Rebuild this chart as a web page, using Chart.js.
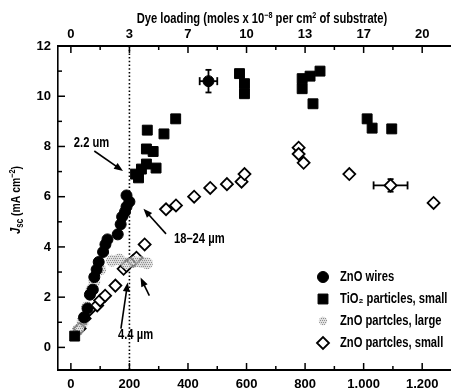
<!DOCTYPE html>
<html>
<head>
<meta charset="utf-8">
<script src="https://cdn.jsdelivr.net/npm/chart.js@4.4.0/dist/chart.umd.min.js"></script>
<style>
  html, body { margin: 0; padding: 0; background: #fff; }
  #wrap { position: relative; width: 458px; height: 388px; }
</style>
</head>
<body>
<div id="wrap"><canvas id="jscChart"></canvas></div>
<script>
'use strict';

// ---- Data ----
const wiresX = [45, 57, 65, 75, 80, 88, 95, 110, 118, 125, 160, 170, 175, 185, 190, 200, 190, 470];
const wiresY = [1.2, 1.55, 2.1, 2.3, 2.8, 3.1, 3.4, 3.8, 4.1, 4.3, 4.5, 4.9, 5.2, 5.4, 5.6, 5.8, 6.05, 10.6];

const tio2X = [13, 221, 231, 241, 258, 291, 258, 281, 261, 318, 358, 576, 593, 593, 790, 790, 817, 851, 827, 1012, 1029, 1096];
const tio2Y = [0.45, 6.9, 6.75, 7.1, 7.3, 7.14, 7.9, 7.8, 8.65, 8.5, 9.1, 10.9, 10.5, 10.1, 10.7, 10.3, 10.8, 11.0, 9.7, 9.1, 8.73, 8.7];

const largeX = [25, 40, 55, 70, 80, 100, 140, 165, 190, 215, 240, 260];
const largeY = [0.7, 1.0, 1.6, 2.3, 2.6, 3.1, 3.45, 3.5, 3.35, 3.4, 3.4, 3.35];

const smallX = [30, 47, 64, 90, 100, 117, 152, 180, 190, 213, 224, 252, 325, 359, 421, 476, 533, 583, 593, 778, 778, 795, 951, 1092, 1239];
const smallY = [0.75, 1.15, 1.5, 1.67, 1.87, 2.06, 2.46, 3.13, 3.25, 3.45, 3.57, 4.1, 5.5, 5.65, 6.0, 6.35, 6.5, 6.6, 6.9, 7.95, 7.7, 7.35, 6.9, 6.45, 5.75];

// error bars: wires point and ZnO small point
const errX = [470, 1092];
const errY = [10.6, 6.45];
const errDx = [30, 58];
const errDy = [0.45, 0.25];

// axis ticks
const xTicks = [0, 100, 200, 300, 400, 500, 600, 700, 800, 900, 1000, 1100, 1200];
const dyeLabels = ['0', '3', '7', '10', '13', '17', '20'];
const yTicks = [0, 1, 2, 3, 4, 5, 6, 7, 8, 9, 10, 11, 12];
const markerLine = 200;

// annotations (data units)
const noteText = ['2.2 um', '18\u201324 \u00b5m', '4.4 \u00b5m'];
const noteX = [10, 352, 161];
const noteY = [8.13, 4.33, 0.48];
const arrowFrom = [[80, 7.82], [325, 4.52], [171, 0.75], [268, 2.06]];
const arrowTo = [[178, 7.02], [248, 5.52], [194, 2.58], [238, 2.78]];

const seriesNames = ['ZnO wires', 'TiO\u2082 particles, small', 'ZnO partcles, large', 'ZnO partcles, small'];

const FONT = "'Liberation Sans', Arial, sans-serif";
const SQUEEZE = 0.8; // the figure uses a condensed face

function pts(xs, ys) {
  return xs.map((v, i) => ({ x: v, y: ys[i] }));
}

// ---- stipple fill for large particles ----
function stipple() {
  const c = document.createElement('canvas');
  c.width = 4; c.height = 4;
  const g = c.getContext('2d');
  g.fillStyle = 'rgba(205,205,205,0.6)';
  g.fillRect(0, 0, 4, 4);
  g.fillStyle = '#8f8f8f';
  g.fillRect(0, 0, 1, 1);
  g.fillRect(2, 0, 1, 1);
  g.fillRect(1, 2, 1, 1);
  g.fillRect(3, 2, 1, 1);
  return g.createPattern(c, 'repeat');
}

function line(ctx, x1, y1, x2, y2) {
  ctx.beginPath();
  ctx.moveTo(x1, y1);
  ctx.lineTo(x2, y2);
  ctx.stroke();
}

function arrow(ctx, x1, y1, x2, y2) {
  const a = Math.atan2(y2 - y1, x2 - x1);
  const c = Math.cos(a), s = Math.sin(a);
  line(ctx, x1, y1, x2 - 5 * c, y2 - 5 * s);
  ctx.beginPath();
  ctx.moveTo(x2, y2);
  ctx.lineTo(x2 - 9 * c + 3.5 * s, y2 - 9 * s - 3.5 * c);
  ctx.lineTo(x2 - 9 * c - 3.5 * s, y2 - 9 * s + 3.5 * c);
  ctx.closePath();
  ctx.fill();
}

// condensed text: squeeze horizontally around the anchor
function narrowText(ctx, t, x, y) {
  ctx.save();
  ctx.translate(x, y);
  ctx.scale(SQUEEZE, 1);
  ctx.fillText(t, 0, 0);
  ctx.restore();
}

// draws a run of text pieces, each {t, size, dy, italic}
function richText(ctx, parts, x, y, align) {
  const fontOf = p => (p.italic ? 'italic ' : '') + 'bold ' + p.size + 'px ' + FONT;
  let total = 0;
  parts.forEach(p => { ctx.font = fontOf(p); total += ctx.measureText(p.t).width; });
  ctx.save();
  ctx.translate(x, y);
  ctx.scale(SQUEEZE, 1);
  let cx = align === 'center' ? -total / 2 : 0;
  ctx.textAlign = 'left';
  ctx.textBaseline = 'alphabetic';
  parts.forEach(p => {
    ctx.font = fontOf(p);
    ctx.fillText(p.t, cx, p.dy || 0);
    cx += ctx.measureText(p.t).width;
  });
  ctx.restore();
}

// ---- under the points: dotted line + error bars ----
const underPlugin = {
  id: 'under',
  beforeDatasetsDraw(chart) {
    const { ctx, chartArea: a } = chart;
    const { x, y } = chart.scales;
    ctx.save();
    ctx.strokeStyle = '#000';
    ctx.lineWidth = 1.6;
    ctx.setLineDash([1.5, 2.2]);
    const px = x.getPixelForValue(markerLine);
    line(ctx, px, a.top, px, a.bottom);
    ctx.setLineDash([]);

    ctx.lineWidth = 1.8;
    errX.forEach((v, i) => {
      const cx = x.getPixelForValue(v), cy = y.getPixelForValue(errY[i]);
      const l = x.getPixelForValue(v - errDx[i]), r = x.getPixelForValue(v + errDx[i]);
      const t = y.getPixelForValue(errY[i] + errDy[i]), b = y.getPixelForValue(errY[i] - errDy[i]);
      line(ctx, l, cy, r, cy);
      line(ctx, l, cy - 4, l, cy + 4);
      line(ctx, r, cy - 4, r, cy + 4);
      line(ctx, cx, t, cx, b);
      line(ctx, cx - 3, t, cx + 3, t);
      line(ctx, cx - 3, b, cx + 3, b);
    });
    ctx.restore();
  },
};

// ---- over everything: inward ticks, titles, notes, legend ----
const decorPlugin = {
  id: 'decor',
  afterDraw(chart) {
    const { ctx, chartArea: a } = chart;
    const { x, y } = chart.scales;
    ctx.save();
    ctx.strokeStyle = '#000';
    ctx.fillStyle = '#000';
    ctx.lineWidth = 1.5;

    xTicks.forEach(v => {
      const px = x.getPixelForValue(v);
      const len = v % 200 === 0 ? 7 : 4;
      line(ctx, px, a.bottom, px, a.bottom - len);
      line(ctx, px, a.top, px, a.top + len);
    });
    yTicks.forEach(v => {
      const py = y.getPixelForValue(v);
      const len = v % 2 === 0 ? 7 : 4;
      line(ctx, a.left, py, a.left + len, py);
    });

    // top title
    richText(ctx, [
      { t: 'Dye loading (moles x 10', size: 14 },
      { t: '\u22128', size: 9, dy: -5 },
      { t: ' per cm', size: 14 },
      { t: '2', size: 9, dy: -5 },
      { t: ' of substrate)', size: 14 },
    ], 262, 23, 'center');

    // y title
    ctx.save();
    ctx.translate(20, 200);
    ctx.rotate(-Math.PI / 2);
    richText(ctx, [
      { t: 'J', size: 14, italic: true },
      { t: 'sc', size: 10, dy: 3 },
      { t: ' (mA cm', size: 13 },
      { t: '\u22122', size: 9, dy: -5 },
      { t: ')', size: 13 },
    ], 0, 0, 'center');
    ctx.restore();

    // notes and arrows
    ctx.font = 'bold 14px ' + FONT;
    ctx.textAlign = 'left';
    ctx.textBaseline = 'middle';
    noteText.forEach((t, i) => {
      narrowText(ctx, t, x.getPixelForValue(noteX[i]), y.getPixelForValue(noteY[i]));
    });
    ctx.lineWidth = 1.6;
    arrowFrom.forEach((p, i) => {
      const q = arrowTo[i];
      arrow(ctx, x.getPixelForValue(p[0]), y.getPixelForValue(p[1]),
        x.getPixelForValue(q[0]), y.getPixelForValue(q[1]));
    });

    // legend
    const lx = a.right - 127, ly = a.bottom - 93;
    chart.data.datasets.forEach((ds, i) => {
      const cy = ly + i * 22;
      ctx.fillStyle = ds.backgroundColor;
      ctx.strokeStyle = ds.borderColor;
      ctx.lineWidth = ds.borderWidth;
      Chart.helpers.drawPoint(ctx, {
        pointStyle: ds.pointStyle,
        radius: ds.pointRadius * (i === 2 ? 0.7 : 1),
        borderWidth: ds.borderWidth,
      }, lx, cy);
      ctx.fillStyle = '#000';
      ctx.font = 'bold 14px ' + FONT;
      ctx.textBaseline = 'middle';
      narrowText(ctx, ds.label, lx + 17, cy);
    });
    ctx.restore();
  },
};

function initJscChart() {
  const el = document.getElementById('jscChart');
  const tickFont = { family: FONT, size: 13, weight: 'bold' };

  new Chart(el, {
    type: 'scatter',
    data: {
      datasets: [
        {
          label: seriesNames[0],
          data: pts(wiresX, wiresY),
          pointStyle: 'circle',
          pointRadius: 5.5,
          backgroundColor: '#000',
          borderColor: '#000',
          borderWidth: 1,
        },
        {
          label: seriesNames[1],
          data: pts(tio2X, tio2Y),
          pointStyle: 'rect',
          pointRadius: 7,
          backgroundColor: '#000',
          borderColor: '#000',
          borderWidth: 1,
        },
        {
          label: seriesNames[2],
          data: pts(largeX, largeY),
          pointStyle: 'circle',
          pointRadius: 6,
          backgroundColor: stipple(),
          borderColor: 'rgba(0,0,0,0)',
          borderWidth: 0,
        },
        {
          label: seriesNames[3],
          data: pts(smallX, smallY),
          pointStyle: 'rectRot',
          pointRadius: 6,
          backgroundColor: '#fff',
          borderColor: '#000',
          borderWidth: 1.8,
        },
      ],
    },
    options: {
      responsive: true,
      maintainAspectRatio: false,
      animation: false,
      layout: { padding: { left: 0, right: 1, top: 0, bottom: 0 } },
      plugins: { legend: { display: false }, tooltip: { enabled: false } },
      scales: {
        x: {
          type: 'linear',
          position: 'bottom',
          min: -44,
          max: 1295,
          afterBuildTicks: s => { s.ticks = xTicks.map(v => ({ value: v })); },
          afterFit: s => { s.height = 18; },
          grid: { display: false, drawTicks: false },
          border: { display: true, color: '#000', width: 2 },
          ticks: {
            autoSkip: false, maxRotation: 0, padding: 7, color: '#000', font: tickFont,
            callback: v => (v % 200 === 0 ? v.toLocaleString('en-US') : ''),
          },
        },
        x2: {
          type: 'linear',
          position: 'top',
          min: -44,
          max: 1295,
          afterBuildTicks: s => { s.ticks = xTicks.map(v => ({ value: v })); },
          afterFit: s => { s.height = 46; },
          grid: { display: false, drawTicks: false },
          border: { display: true, color: '#000', width: 2 },
          ticks: {
            autoSkip: false, maxRotation: 0, padding: 4, color: '#000', font: tickFont,
            callback: v => (v % 200 === 0 ? dyeLabels[v / 200] : ''),
          },
        },
        y: {
          type: 'linear',
          min: -0.9,
          max: 12,
          afterBuildTicks: s => { s.ticks = yTicks.map(v => ({ value: v })); },
          afterFit: s => { s.width = 58; },
          grid: { display: false, drawTicks: false },
          border: { display: true, color: '#000', width: 1.6 },
          ticks: {
            autoSkip: false, padding: 7, color: '#000', font: tickFont,
            callback: v => (v % 2 === 0 ? String(v) : ''),
          },
        },
      },
    },
    plugins: [underPlugin, decorPlugin],
  });
}

initJscChart();
</script>
</body>
</html>
